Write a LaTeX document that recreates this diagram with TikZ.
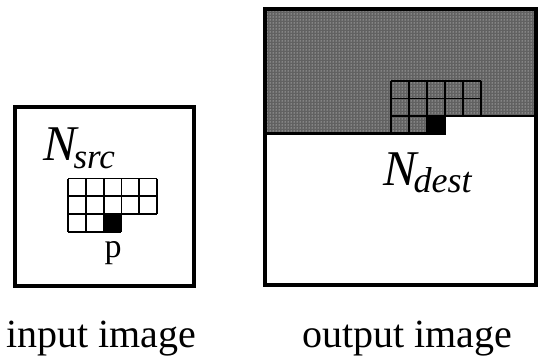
\documentclass[tikz,border=0pt]{standalone}
\usepackage{fontspec}
\setmainfont{Liberation Serif}
\usetikzlibrary{patterns}
\begin{document}
\begin{tikzpicture}[x=1pt,y=-1pt,
  frame/.style={line width=4pt},
  cell/.style={line width=1.8pt},
  edge/.style={line width=2.6pt},
  shaded/.style={fill=black!62},
  dotted texture/.style={pattern=dots,pattern color=white},
  lbl/.style={inner sep=0pt,anchor=base,font=\fontsize{40}{48}\selectfont},
  mainsym/.style={inner sep=0pt,anchor=base west}]
\useasboundingbox (0,0) rectangle (540,359);

% ---- input image ----
% neighbourhood window around p
\foreach \y in {178.5,196.3,214.1} \draw[cell] (68,\y) -- (157,\y);
\draw[cell] (68,232) -- (121.4,232);
\foreach \x in {68,85.8,103.6,121.4} \draw[cell] (\x,178.5) -- (\x,232);
\foreach \x in {139.2,157} \draw[cell] (\x,178.5) -- (\x,214.1);
\fill (103.6,214.1) rectangle (121.4,232);
\draw[frame] (14.5,107) rectangle (194,285.5);
\node[mainsym] (nsrc) at (43,160)
  {\fontsize{50}{60}\selectfont\itshape N\kern-3pt\raisebox{-8pt}{\fontsize{35}{42}\selectfont src}};
\node[inner sep=0pt,anchor=base,font=\fontsize{34}{40}\selectfont] (p) at (113,257) {p};
\node[lbl] (inlbl) at (101,347) {input image};

% ---- output image ----
% already processed region
\fill[shaded] (265,9) -- (536,9) -- (536,116) -- (445,116) -- (445,133.5) -- (265,133.5) -- cycle;
\fill[dotted texture] (265,9) -- (536,9) -- (536,116) -- (445,116) -- (445,133.5) -- (265,133.5) -- cycle;
\foreach \y in {81,98.5,116} \draw[cell] (391,\y) -- (481,\y);
\foreach \x in {391,409,427,445} \draw[cell] (\x,81) -- (\x,133.5);
\foreach \x in {463,481} \draw[cell] (\x,81) -- (\x,116);
\fill (427,116) rectangle (445,133.5);
\draw[edge] (265,133.5) -- (445,133.5) -- (445,116) -- (536,116);
\draw[frame] (265,9) rectangle (536,284.5);
\node[mainsym] (ndest) at (383,185)
  {\fontsize{50}{60}\selectfont\itshape N\kern-3pt\raisebox{-7pt}{\fontsize{36}{42}\selectfont dest}};
\node[lbl] (outlbl) at (407,347) {output image};
\end{tikzpicture}
\end{document}
